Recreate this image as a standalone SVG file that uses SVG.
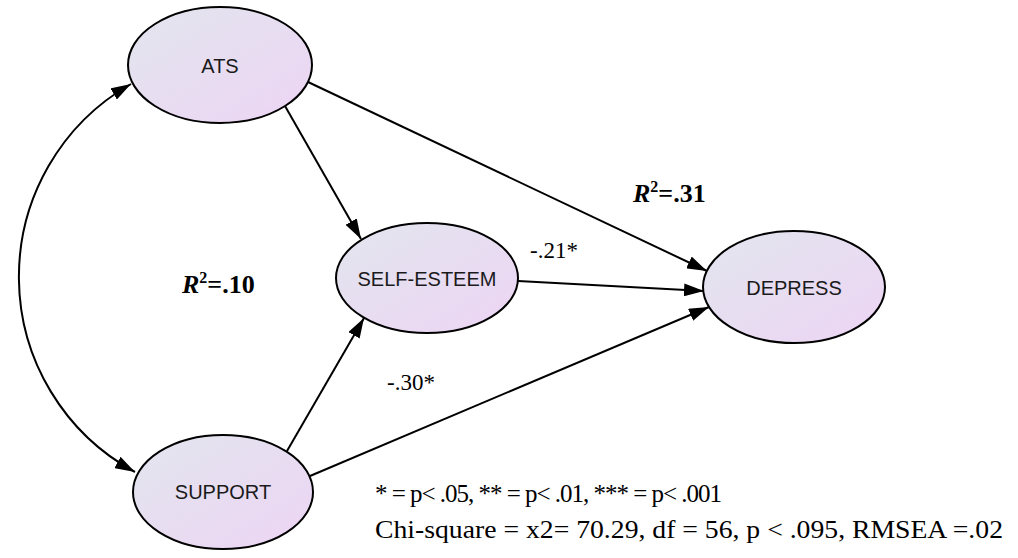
<svg xmlns="http://www.w3.org/2000/svg" width="1018" height="558" viewBox="0 0 1018 558">
  <style>
    .node { stroke: #000; stroke-width: 2; fill: url(#g); }
    .nlabel { font-family: "Liberation Sans", Arial, sans-serif; font-size: 20px; fill: #1a1a1a; text-anchor: middle; }
    .edge { stroke: #000; stroke-width: 2; fill: none; marker-end: url(#arr); }
    .coef { font-family: "Liberation Serif", "Times New Roman", serif; font-size: 23px; fill: #000; }
    .r2 { font-family: "Liberation Serif", "Times New Roman", serif; font-size: 26px; font-weight: bold; fill: #000; }
    .note { font-family: "Liberation Serif", "Times New Roman", serif; font-size: 25px; fill: #000; }
  </style>
  <defs>
    <linearGradient id="g" x1="0" y1="0" x2="1" y2="1">
      <stop offset="0" stop-color="#E2E6EE"/>
      <stop offset="1" stop-color="#EDD4F4"/>
    </linearGradient>
    <marker id="arr" markerUnits="userSpaceOnUse" markerWidth="20" markerHeight="13" refX="20" refY="6.5" orient="auto-start-reverse" viewBox="0 0 20 13">
      <path d="M0,0 L20,6.5 L0,13 Z" fill="#000"/>
    </marker>
  </defs>
  <rect width="1018" height="558" fill="#fff"/>

  <g id="connectors">
    <path class="edge" d="M131,84 A222,222 0 0 0 135,472" marker-start="url(#arr)"/>
    <line class="edge" x1="285" y1="106" x2="361" y2="239"/>
    <line class="edge" x1="308" y1="82" x2="707" y2="271"/>
    <line class="edge" x1="518" y1="281" x2="704" y2="291"/>
    <line class="edge" x1="287" y1="451" x2="364" y2="318"/>
    <line class="edge" x1="310" y1="476" x2="709" y2="307"/>
  </g>

  <g id="ATS">
    <ellipse class="node" cx="220" cy="65" rx="92" ry="58"/>
    <text class="nlabel" x="220" y="73">ATS</text>
  </g>
  <g id="SELF-ESTEEM">
    <ellipse class="node" cx="427" cy="278" rx="91" ry="55"/>
    <text class="nlabel" x="427" y="286">SELF-ESTEEM</text>
  </g>
  <g id="DEPRESS">
    <ellipse class="node" cx="794" cy="287" rx="91" ry="56"/>
    <text class="nlabel" x="794" y="295">DEPRESS</text>
  </g>
  <g id="SUPPORT">
    <ellipse class="node" cx="223" cy="492" rx="90" ry="57"/>
    <text class="nlabel" x="223" y="499">SUPPORT</text>
  </g>

  <g id="labels">
    <text class="coef" x="530" y="258">-.21*</text>
    <text class="coef" x="387" y="390">-.30*</text>
    <text class="r2" x="182" y="293"><tspan font-style="italic">R</tspan><tspan dy="-10" font-size="16">2</tspan><tspan dy="10">=.10</tspan></text>
    <text class="r2" x="633" y="202"><tspan font-style="italic">R</tspan><tspan dy="-10" font-size="16">2</tspan><tspan dy="10">=.31</tspan></text>
    <text class="note" x="375" y="502" textLength="347" lengthAdjust="spacing">* = p&lt; .05, ** = p&lt; .01, *** = p&lt; .001</text>
    <text class="note" x="375" y="538" textLength="628" lengthAdjust="spacingAndGlyphs">Chi-square = x2= 70.29, df = 56, p &lt; .095, RMSEA =.02</text>
  </g>
</svg>
